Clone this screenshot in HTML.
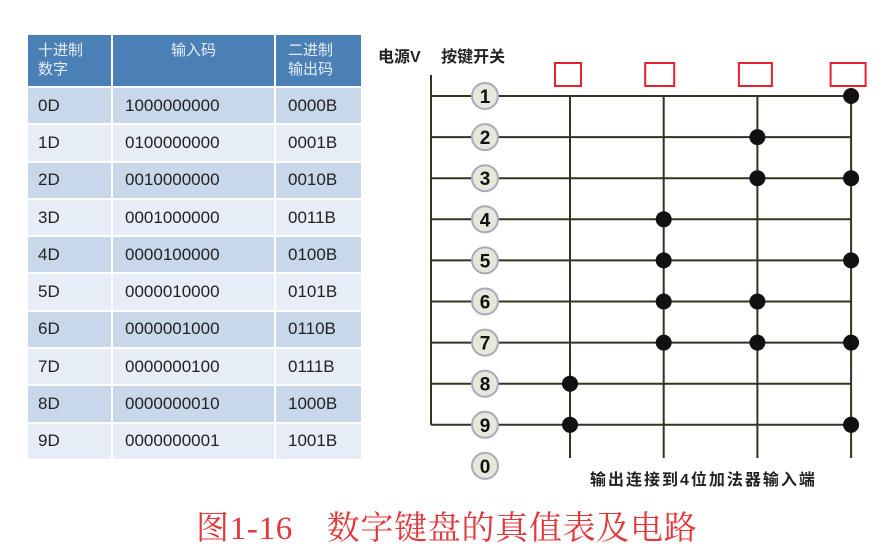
<!DOCTYPE html>
<html><head><meta charset="utf-8"><style>
body{margin:0;width:894px;height:556px;background:#fff;overflow:hidden;font-family:"Liberation Sans","Noto Sans CJK SC",sans-serif;position:relative}
table{position:absolute;left:28px;top:35px;border-collapse:collapse}
td,th{padding:0;border-right:2px solid #fff;border-bottom:2px solid #fff;font-size:17px;color:#222}
th{background:#4a80b6;color:#e8eef6;font-weight:normal;height:52px;vertical-align:top;font-size:15px;line-height:19px;padding-top:6px;box-sizing:border-box}
td{height:37.3px;box-sizing:border-box}
tr.a td{background:#c8d8ea}tr.b td{background:#e6edf6}
</style></head><body>
<table>
<tr><th style="width:84px;text-align:left;padding-left:10px">十进制<br>数字</th><th style="width:163px">输入码</th><th style="width:87px;text-align:left;padding-left:12px">二进制<br>输出码</th></tr>
<tbody id="tb"></tbody></table>
<svg id="sv" width="894" height="556" style="position:absolute;left:0;top:0">
<text x="378" y="62" font-size="16" font-weight="bold" fill="#222" font-family="Liberation Sans,Noto Sans CJK SC,sans-serif">电源V　 按键开关</text>
<text x="590" y="485" font-size="16" letter-spacing="2" font-weight="bold" fill="#222" font-family="Liberation Sans,Noto Sans CJK SC,sans-serif">输出连接到4位加法器输入端</text>
<text x="196" y="539" font-size="33" letter-spacing="0.7" fill="#e0383c" font-family="Liberation Serif,Noto Serif CJK SC,serif">图1-16　数字键盘的真值表及电路</text>
</svg>
<script>
const digits=['0D','1D','2D','3D','4D','5D','6D','7D','8D','9D'];
const inputs=['1000000000','0100000000','0010000000','0001000000','0000100000','0000010000','0000001000','0000000100','0000000010','0000000001'];
const outputs=['0000B','0001B','0010B','0011B','0100B','0101B','0110B','0111B','1000B','1001B'];
const keys=[1,2,3,4,5,6,7,8,9,0];
const dots=[[3],[2],[2,3],[1],[1,3],[1,2],[1,2,3],[0],[0,3],[]];
const tb=document.getElementById('tb');
digits.forEach((d,i)=>{const tr=document.createElement('tr');tr.className=i%2?'b':'a';


tr.innerHTML=`<td style="padding-left:10px">${d}</td><td style="padding-left:12px">${inputs[i]}</td><td style="padding-left:12px">${outputs[i]}</td>`;tb.appendChild(tr);});
const sv=document.getElementById('sv'),NS='http://www.w3.org/2000/svg';
const rowY=i=>96+i*41.1, colX=j=>570+j*93.7;
function el(t,a){const e=document.createElementNS(NS,t);for(const k in a)e.setAttribute(k,a[k]);sv.appendChild(e);return e;}
let l=el('line',{x1:431,y1:75,x2:431,y2:rowY(8),stroke:'#332',"stroke-width":2});


for(let j=0;j<4;j++){let v=el('line',{x1:colX(j),y1:rowY(0),x2:colX(j),y2:458,stroke:'#332',"stroke-width":2});


const bw=[26,29,33,35][j];let r=el('rect',{x:colX(j)-bw/2+(j==0?-2:j==1?-4:j==2?-2:-3),y:63,width:bw,height:23,fill:'none',stroke:'#e82030',"stroke-width":2});

}
keys.forEach((k,i)=>{const y=rowY(i);
if(i<9){let h=el('line',{x1:431,y1:y,x2:colX(3),y2:y,stroke:'#332',"stroke-width":2});

}
let c=el('circle',{cx:485,cy:y,r:13,fill:'#e6e8dc',stroke:'#aab',"stroke-width":2});


let t=el('text',{x:485,y:y+7,"text-anchor":"middle","font-size":19,"font-weight":"bold",fill:'#111'});t.textContent=k;


dots[i].forEach(j=>{let d=el('circle',{cx:colX(j),cy:y,r:8,fill:'#111'});

});});
</script>
</body></html>
